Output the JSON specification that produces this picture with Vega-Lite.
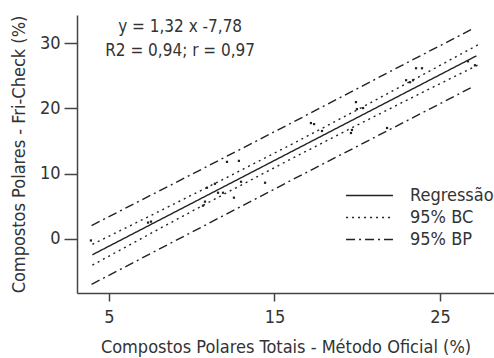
{
  "$schema": "https://vega.github.io/schema/vega-lite/v6.json",
  "autosize": {"type": "none"},
  "padding": {"left": 77, "top": 15, "right": 0, "bottom": 65},
  "width": 417,
  "height": 278,
  "config": {
    "font": "DejaVu Sans Condensed, Roboto, sans-serif",
    "view": {"stroke": null},
    "axis": {
      "grid": false,
      "domainColor": "#444",
      "domainWidth": 1.5,
      "tickColor": "#444",
      "tickWidth": 1.5,
      "labelFont": "DejaVu Sans Condensed, Roboto, sans-serif",
      "labelFontSize": 18,
      "labelColor": "#333",
      "titleFont": "DejaVu Sans Condensed, Roboto, sans-serif",
      "titleFontSize": 18,
      "titleFontWeight": "normal",
      "titleColor": "#333"
    },
    "legend": {
      "labelFont": "DejaVu Sans Condensed, Roboto, sans-serif"
    }
  },
  "datasets": {
    "linhas": [
      {"serie": "Regressão", "parte": "r", "x": 4.0, "y": -2.5},
      {"serie": "Regressão", "parte": "r", "x": 27.2, "y": 28.1},
      {"serie": "95% BC", "parte": "sup", "x": 4.0, "y": -0.9},
      {"serie": "95% BC", "parte": "sup", "x": 8.0, "y": 4.13},
      {"serie": "95% BC", "parte": "sup", "x": 12.0, "y": 9.23},
      {"serie": "95% BC", "parte": "sup", "x": 16.0, "y": 14.44},
      {"serie": "95% BC", "parte": "sup", "x": 20.0, "y": 19.79},
      {"serie": "95% BC", "parte": "sup", "x": 24.0, "y": 25.25},
      {"serie": "95% BC", "parte": "sup", "x": 27.3, "y": 29.8},
      {"serie": "95% BC", "parte": "inf", "x": 4.0, "y": -4.1},
      {"serie": "95% BC", "parte": "inf", "x": 8.0, "y": 1.44},
      {"serie": "95% BC", "parte": "inf", "x": 12.0, "y": 6.89},
      {"serie": "95% BC", "parte": "inf", "x": 16.0, "y": 12.24},
      {"serie": "95% BC", "parte": "inf", "x": 20.0, "y": 17.45},
      {"serie": "95% BC", "parte": "inf", "x": 24.0, "y": 22.56},
      {"serie": "95% BC", "parte": "inf", "x": 27.3, "y": 26.7},
      {"serie": "95% BP", "parte": "sup", "x": 3.95, "y": 2.0},
      {"serie": "95% BP", "parte": "sup", "x": 10.0, "y": 9.87},
      {"serie": "95% BP", "parte": "sup", "x": 16.0, "y": 17.74},
      {"serie": "95% BP", "parte": "sup", "x": 22.0, "y": 25.71},
      {"serie": "95% BP", "parte": "sup", "x": 27.0, "y": 32.3},
      {"serie": "95% BP", "parte": "inf", "x": 3.95, "y": -7.04},
      {"serie": "95% BP", "parte": "inf", "x": 10.0, "y": 0.97},
      {"serie": "95% BP", "parte": "inf", "x": 16.0, "y": 8.94},
      {"serie": "95% BP", "parte": "inf", "x": 22.0, "y": 16.81},
      {"serie": "95% BP", "parte": "inf", "x": 26.95, "y": 23.3}
    ],
    "pontos": [
      {"x": 3.91, "y": -0.3},
      {"x": 7.36, "y": 2.45},
      {"x": 7.54, "y": 2.6},
      {"x": 10.68, "y": 5.05},
      {"x": 10.8, "y": 5.67},
      {"x": 10.92, "y": 7.81},
      {"x": 11.4, "y": 8.42},
      {"x": 11.59, "y": 7.04},
      {"x": 11.89, "y": 7.04},
      {"x": 12.13, "y": 11.79},
      {"x": 12.85, "y": 11.94},
      {"x": 12.55, "y": 6.28},
      {"x": 12.98, "y": 8.73},
      {"x": 14.43, "y": 8.58},
      {"x": 17.2, "y": 17.76},
      {"x": 17.39, "y": 17.6},
      {"x": 17.87, "y": 16.54},
      {"x": 19.68, "y": 16.7},
      {"x": 19.62, "y": 16.23},
      {"x": 19.98, "y": 19.9},
      {"x": 19.92, "y": 20.98},
      {"x": 20.35, "y": 20.06},
      {"x": 21.8, "y": 17.0},
      {"x": 22.95, "y": 24.35},
      {"x": 23.37, "y": 24.35},
      {"x": 23.19, "y": 24.04},
      {"x": 23.55, "y": 26.19},
      {"x": 23.91, "y": 26.19},
      {"x": 26.69, "y": 27.26},
      {"x": 27.11, "y": 26.65}
    ],
    "anotacao": [
      {"x": 9.3, "y": 32.5, "texto": "y = 1,32 x -7,78"},
      {"x": 9.3, "y": 28.9, "texto": "R2 = 0,94; r = 0,97"}
    ]
  },
  "layer": [
    {
      "data": {"name": "linhas"},
      "mark": {"type": "line", "color": "#222", "strokeWidth": 1.4},
      "encoding": {
        "x": {
          "field": "x", "type": "quantitative",
          "scale": {"domain": [3.07, 28.26], "nice": false, "zero": false},
          "axis": {"values": [5, 15, 25], "tickSize": 8, "labelPadding": 7, "titlePadding": 12,
                   "title": "Compostos Polares Totais - Método Oficial (%)"}
        },
        "y": {
          "field": "y", "type": "quantitative",
          "scale": {"domain": [-8.38, 34.38], "nice": false, "zero": false},
          "axis": {"values": [0, 10, 20, 30], "tickSize": 13, "labelPadding": 4, "titlePadding": 11,
                   "title": "Compostos Polares - Fri-Check (%)"}
        },
        "strokeDash": {
          "field": "serie", "type": "nominal",
          "scale": {"domain": ["Regressão", "95% BC", "95% BP"], "range": [[1, 0], [2, 4], [9, 4, 2, 4]]},
          "legend": {
            "title": null,
            "orient": "none",
            "legendX": 282,
            "legendY": 170,
            "symbolType": "M-2.5,0H2.5",
            "symbolSize": 352,
            "symbolStrokeWidth": 1.4,
            "symbolStrokeColor": "#222",
            "labelFontSize": 18,
            "labelColor": "#333",
            "labelOffset": 30,
            "rowPadding": 2
          }
        },
        "detail": {"field": "parte"}
      }
    },
    {
      "data": {"name": "pontos"},
      "mark": {"type": "point", "shape": "square", "filled": true, "size": 5, "color": "#222", "opacity": 1},
      "encoding": {
        "x": {"field": "x", "type": "quantitative"},
        "y": {"field": "y", "type": "quantitative"}
      }
    },
    {
      "data": {"name": "anotacao"},
      "mark": {"type": "text", "fontSize": 17, "color": "#333", "align": "center", "baseline": "middle", "font": "DejaVu Sans Condensed, Roboto, sans-serif"},
      "encoding": {
        "x": {"field": "x", "type": "quantitative"},
        "y": {"field": "y", "type": "quantitative"},
        "text": {"field": "texto"}
      }
    }
  ]
}
